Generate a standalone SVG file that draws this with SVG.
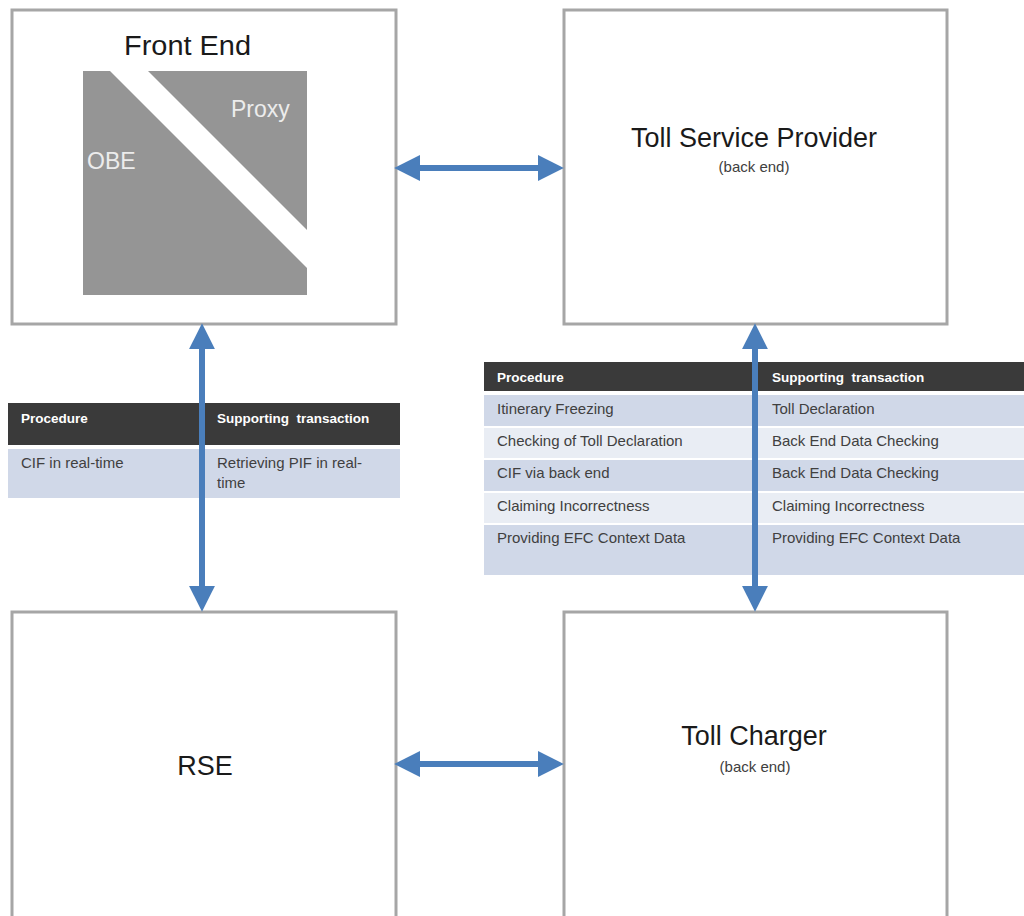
<svg xmlns="http://www.w3.org/2000/svg" width="1024" height="916" viewBox="0 0 1024 916">
<style>
.box{fill:#fff;stroke:#a6a6a6;stroke-width:3}
.title{font-family:"Liberation Sans",Arial,sans-serif;font-size:27px;fill:#1a1a1a}
.sub{font-family:"Liberation Sans",Arial,sans-serif;font-size:15px;fill:#404040}
.inner{font-family:"Liberation Sans",Arial,sans-serif;font-size:23px;fill:#ececec}
.hdr{fill:#3a3a3a}
.rowA{fill:#d0d8e8}
.rowB{fill:#e9edf4}
.th{font-family:"Liberation Sans",Arial,sans-serif;font-size:13.5px;font-weight:bold;fill:#ffffff}
.td{font-family:"Liberation Sans",Arial,sans-serif;font-size:15px;fill:#404040}
.conn{stroke:#4a7ebb;stroke-width:6;fill:none}
</style>
<defs>
<marker id="head" markerUnits="userSpaceOnUse" markerWidth="26" markerHeight="26" viewBox="0 0 24 24" refX="2" refY="12" orient="auto-start-reverse">
<path d="M0,0 L24,12 L0,24 z" fill="#4a7ebb"/>
</marker>
</defs>

<g id="front-end">
<rect class="box" x="12" y="10" width="384" height="314"/>
<polygon points="83,71 110,71 307,268 307,295 83,295" fill="#959595"/>
<polygon points="148,71 307,71 307,230" fill="#959595"/>
<text class="title" x="124" y="55" textLength="127" lengthAdjust="spacingAndGlyphs">Front End</text>
<text class="inner" x="231" y="117">Proxy</text>
<text class="inner" x="87" y="169">OBE</text>
</g>

<g id="toll-service-provider">
<rect class="box" x="564" y="10" width="383" height="314"/>
<text class="title" x="754" y="147" text-anchor="middle">Toll Service Provider</text>
<text class="sub" x="754" y="172" text-anchor="middle">(back end)</text>
</g>

<g id="rse">
<rect class="box" x="12" y="612" width="384" height="330"/>
<text class="title" x="205" y="775" text-anchor="middle">RSE</text>
</g>

<g id="toll-charger">
<rect class="box" x="564" y="612" width="383" height="330"/>
<text class="title" x="754" y="745" text-anchor="middle">Toll Charger</text>
<text class="sub" x="755" y="772" text-anchor="middle">(back end)</text>
</g>

<g id="table-left">
<rect class="hdr" x="8" y="403" width="392" height="42"/>
<rect class="rowA" x="8" y="449" width="392" height="49"/>
<text class="th" x="21" y="423">Procedure</text>
<text class="th" x="217" y="423" xml:space="preserve">Supporting  transaction</text>
<text class="td" x="21" y="468">CIF in real-time</text>
<text class="td" x="217" y="468">Retrieving PIF in real-</text>
<text class="td" x="217" y="488">time</text>
</g>

<g id="table-right">
<rect class="hdr" x="484" y="362" width="540" height="29"/>
<rect class="rowA" x="484" y="395" width="540" height="31"/>
<rect class="rowB" x="484" y="428" width="540" height="30"/>
<rect class="rowA" x="484" y="460" width="540" height="31"/>
<rect class="rowB" x="484" y="493" width="540" height="30"/>
<rect class="rowA" x="484" y="525" width="540" height="50"/>
<text class="th" x="497" y="382">Procedure</text>
<text class="th" x="772" y="382" xml:space="preserve">Supporting  transaction</text>
<text class="td" x="497" y="414">Itinerary Freezing</text>
<text class="td" x="772" y="414">Toll Declaration</text>
<text class="td" x="497" y="446">Checking of Toll Declaration</text>
<text class="td" x="772" y="446">Back End Data Checking</text>
<text class="td" x="497" y="478">CIF via back end</text>
<text class="td" x="772" y="478">Back End Data Checking</text>
<text class="td" x="497" y="511">Claiming Incorrectness</text>
<text class="td" x="772" y="511">Claiming Incorrectness</text>
<text class="td" x="497" y="543">Providing EFC Context Data</text>
<text class="td" x="772" y="543">Providing EFC Context Data</text>
</g>

<g id="connectors">
<line class="conn" x1="418" y1="168" x2="540" y2="168" marker-start="url(#head)" marker-end="url(#head)"/>
<line class="conn" x1="418" y1="764" x2="540" y2="764" marker-start="url(#head)" marker-end="url(#head)"/>
<line class="conn" x1="202" y1="347" x2="202" y2="588" marker-start="url(#head)" marker-end="url(#head)"/>
<line class="conn" x1="755" y1="347" x2="755" y2="588" marker-start="url(#head)" marker-end="url(#head)"/>
</g>
</svg>
